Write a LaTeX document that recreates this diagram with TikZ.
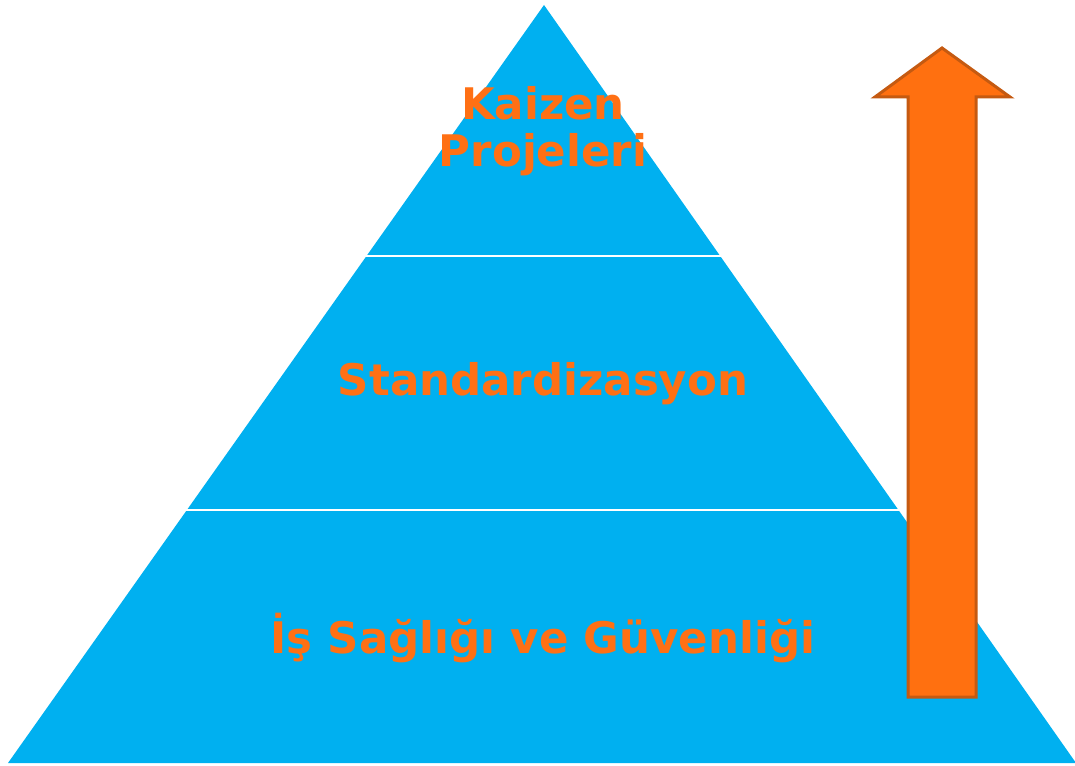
\documentclass[tikz,border=0pt]{standalone}
\usepackage{fontspec}
\setmainfont{DejaVu Sans}
\definecolor{pyrblue}{RGB}{0,176,240}
\definecolor{txtorange}{RGB}{255,112,20}
\definecolor{arrfill}{RGB}{255,112,16}
\definecolor{arrline}{RGB}{197,90,17}
\begin{document}
\begin{tikzpicture}[x=1pt,y=-1pt,
  lvltext/.style={text=txtorange,font=\fontsize{43.5}{47}\selectfont\bfseries,align=center,inner sep=0pt},
  sep/.style={white,line width=2.5pt}]
\useasboundingbox (0,0) rectangle (1075,765);
\fill[white] (0,0) rectangle (1075,765);
% pyramid
\coordinate (apex) at (544,5);
\coordinate (bl) at (8,763);
\coordinate (br) at (1076,763);
\fill[pyrblue] (apex) -- (br) -- (bl) -- cycle;
\draw[sep] (360,256) -- (728,256);
\draw[sep] (180,510) -- (908,510);
% labels
\node[lvltext] (kaizen) at (543,131) {Kaizen\\Projeleri};
\node[lvltext] (std) at (543,384) {Standardizasyon};
\node[lvltext] (isg) at (543,638) {İş Sağlığı ve Güvenliği};
% arrow
\draw[fill=arrfill,draw=arrline,line width=3pt,line join=miter]
  (908,697) -- (908,97) -- (875,97) -- (942,48) -- (1010,97) -- (976,97) -- (976,697) -- cycle;
\end{tikzpicture}
\end{document}
